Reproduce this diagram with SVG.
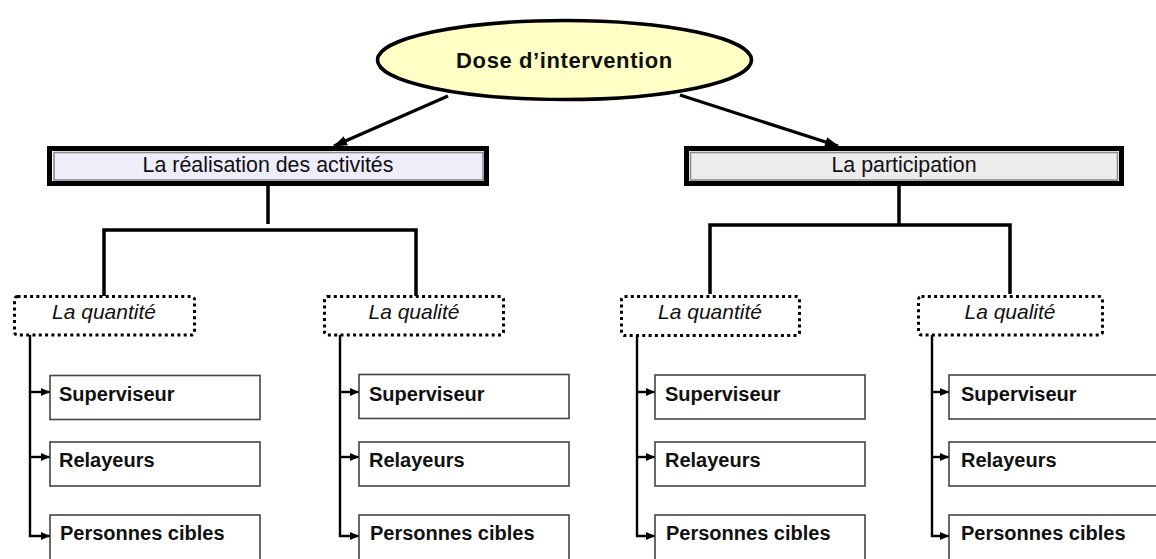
<svg xmlns="http://www.w3.org/2000/svg" width="1156" height="559" viewBox="0 0 1156 559">
  <style>
    .hdr-outer { fill: none; stroke: #000; stroke-width: 5; }
    .hdr-inner { stroke: #8c8c8c; stroke-width: 1.6; }
    .hdr-text { font-family: "Liberation Sans", Arial, sans-serif; font-size: 21.4px; fill: #111; text-anchor: middle; }
    .dot-box { fill: #fff; stroke: #000; stroke-width: 3; stroke-dasharray: 3 3.3; }
    .dot-text { font-family: "Liberation Sans", Arial, sans-serif; font-size: 21px; font-style: italic; fill: #111; text-anchor: middle; }
    .item-box { fill: #fff; stroke: #444; stroke-width: 1.6; }
    .item-text { font-family: "Liberation Sans", Arial, sans-serif; font-size: 20px; font-weight: bold; fill: #111; }
    .main-line { fill: none; stroke: #000; stroke-width: 3.2; }
    .tree-line { fill: none; stroke: #000; stroke-width: 3.5; }
    .branch { fill: none; stroke: #000; stroke-width: 2.4; }
  </style>
  <defs>
    <marker id="bigArrow" markerUnits="userSpaceOnUse" markerWidth="14" markerHeight="10" refX="13" refY="5" orient="auto">
      <path d="M0,0 L14,5 L0,10 z" fill="#000"/>
    </marker>
    <marker id="smallArrow" markerUnits="userSpaceOnUse" markerWidth="9" markerHeight="8" refX="9" refY="4" orient="auto">
      <path d="M0,0 L9,4 L0,8 z" fill="#000"/>
    </marker>
  </defs>
  <rect width="1156" height="559" fill="#fff"/>

  <g id="connectors">
    <line class="main-line" x1="448" y1="96" x2="334" y2="146" marker-end="url(#bigArrow)"/>
    <line class="main-line" x1="680" y1="95" x2="838" y2="146" marker-end="url(#bigArrow)"/>
    <!-- left tree -->
    <line class="tree-line" x1="268" y1="186" x2="268" y2="224"/>
    <polyline class="tree-line" points="104,296 104,230 416,230 416,296"/>
    <!-- right tree -->
    <polyline class="tree-line" points="710,294 710,225 1010,225 1010,294"/>
    <line class="tree-line" x1="899" y1="186" x2="899" y2="225"/>
    <!-- col 1 -->
    <line class="branch" x1="30" y1="392" x2="50" y2="392" marker-end="url(#smallArrow)"/>
    <line class="branch" x1="30" y1="457" x2="50" y2="457" marker-end="url(#smallArrow)"/>
    <polyline class="branch" points="30,335 30,536 50,536" marker-end="url(#smallArrow)"/>
    <!-- col 2 -->
    <line class="branch" x1="340" y1="392" x2="359" y2="392" marker-end="url(#smallArrow)"/>
    <line class="branch" x1="340" y1="457" x2="359" y2="457" marker-end="url(#smallArrow)"/>
    <polyline class="branch" points="340,335 340,536 359,536" marker-end="url(#smallArrow)"/>
    <!-- col 3 -->
    <line class="branch" x1="637" y1="392" x2="655" y2="392" marker-end="url(#smallArrow)"/>
    <line class="branch" x1="637" y1="457" x2="655" y2="457" marker-end="url(#smallArrow)"/>
    <polyline class="branch" points="637,336 637,536 655,536" marker-end="url(#smallArrow)"/>
    <!-- col 4 -->
    <line class="branch" x1="932" y1="392" x2="949" y2="392" marker-end="url(#smallArrow)"/>
    <line class="branch" x1="932" y1="457" x2="949" y2="457" marker-end="url(#smallArrow)"/>
    <polyline class="branch" points="932,335 932,536 949,536" marker-end="url(#smallArrow)"/>
  </g>

  <g id="root">
    <ellipse cx="564.5" cy="60" rx="187" ry="39.5" fill="#ffffc6" stroke="#000" stroke-width="3.6"/>
    <text x="564.5" y="67.5" font-family="Liberation Sans, Arial, sans-serif" font-size="22" font-weight="bold" letter-spacing="0.6" text-anchor="middle" fill="#111">Dose d’intervention</text>
  </g>

  <g id="realisation">
    <rect x="54" y="152.5" width="429" height="27.5" fill="#eeeefb" class="hdr-inner"/>
    <rect class="hdr-outer" x="49.5" y="148.5" width="437" height="35"/>
    <text class="hdr-text" x="268" y="172">La réalisation des activités</text>
  </g>

  <g id="participation">
    <rect x="690.5" y="152.5" width="427" height="27.5" fill="#ececec" class="hdr-inner"/>
    <rect class="hdr-outer" x="686.5" y="148.5" width="435" height="35"/>
    <text class="hdr-text" x="904" y="172">La participation</text>
  </g>

  <g id="quantite-1">
    <rect class="dot-box" x="14.5" y="296.5" width="180" height="38.5" rx="3"/>
    <text class="dot-text" x="104" y="319">La quantité</text>
  </g>
  <g id="qualite-1">
    <rect class="dot-box" x="324.5" y="296.5" width="179" height="38.5" rx="3"/>
    <text class="dot-text" x="414" y="319">La qualité</text>
  </g>
  <g id="quantite-2">
    <rect class="dot-box" x="621.5" y="296.5" width="178" height="39" rx="3"/>
    <text class="dot-text" x="710" y="319">La quantité</text>
  </g>
  <g id="qualite-2">
    <rect class="dot-box" x="918.5" y="296.5" width="184" height="38.5" rx="3"/>
    <text class="dot-text" x="1010" y="319">La qualité</text>
  </g>

  <g id="c1-superviseur"><rect class="item-box" x="50" y="375.5" width="210" height="44"/><text class="item-text" x="59" y="400.5">Superviseur</text></g>
  <g id="c1-relayeurs"><rect class="item-box" x="50" y="442" width="210" height="44"/><text class="item-text" x="59" y="466.5">Relayeurs</text></g>
  <g id="c1-personnes"><rect class="item-box" x="50" y="515" width="210" height="50"/><text class="item-text" x="60" y="539.5">Personnes cibles</text></g>

  <g id="c2-superviseur"><rect class="item-box" x="359" y="374.5" width="210" height="44"/><text class="item-text" x="369" y="400.5">Superviseur</text></g>
  <g id="c2-relayeurs"><rect class="item-box" x="359" y="442" width="210" height="44"/><text class="item-text" x="369" y="466.5">Relayeurs</text></g>
  <g id="c2-personnes"><rect class="item-box" x="359" y="515" width="210" height="50"/><text class="item-text" x="370" y="539.5">Personnes cibles</text></g>

  <g id="c3-superviseur"><rect class="item-box" x="655" y="375" width="210" height="44"/><text class="item-text" x="665" y="400.5">Superviseur</text></g>
  <g id="c3-relayeurs"><rect class="item-box" x="655" y="442" width="210" height="44"/><text class="item-text" x="665" y="466.5">Relayeurs</text></g>
  <g id="c3-personnes"><rect class="item-box" x="655" y="515" width="210" height="50"/><text class="item-text" x="666" y="539.5">Personnes cibles</text></g>

  <g id="c4-superviseur"><rect class="item-box" x="949" y="375" width="210" height="44"/><text class="item-text" x="961" y="400.5">Superviseur</text></g>
  <g id="c4-relayeurs"><rect class="item-box" x="949" y="442" width="210" height="44"/><text class="item-text" x="961" y="466.5">Relayeurs</text></g>
  <g id="c4-personnes"><rect class="item-box" x="949" y="515" width="210" height="50"/><text class="item-text" x="961" y="539.5">Personnes cibles</text></g>
</svg>
